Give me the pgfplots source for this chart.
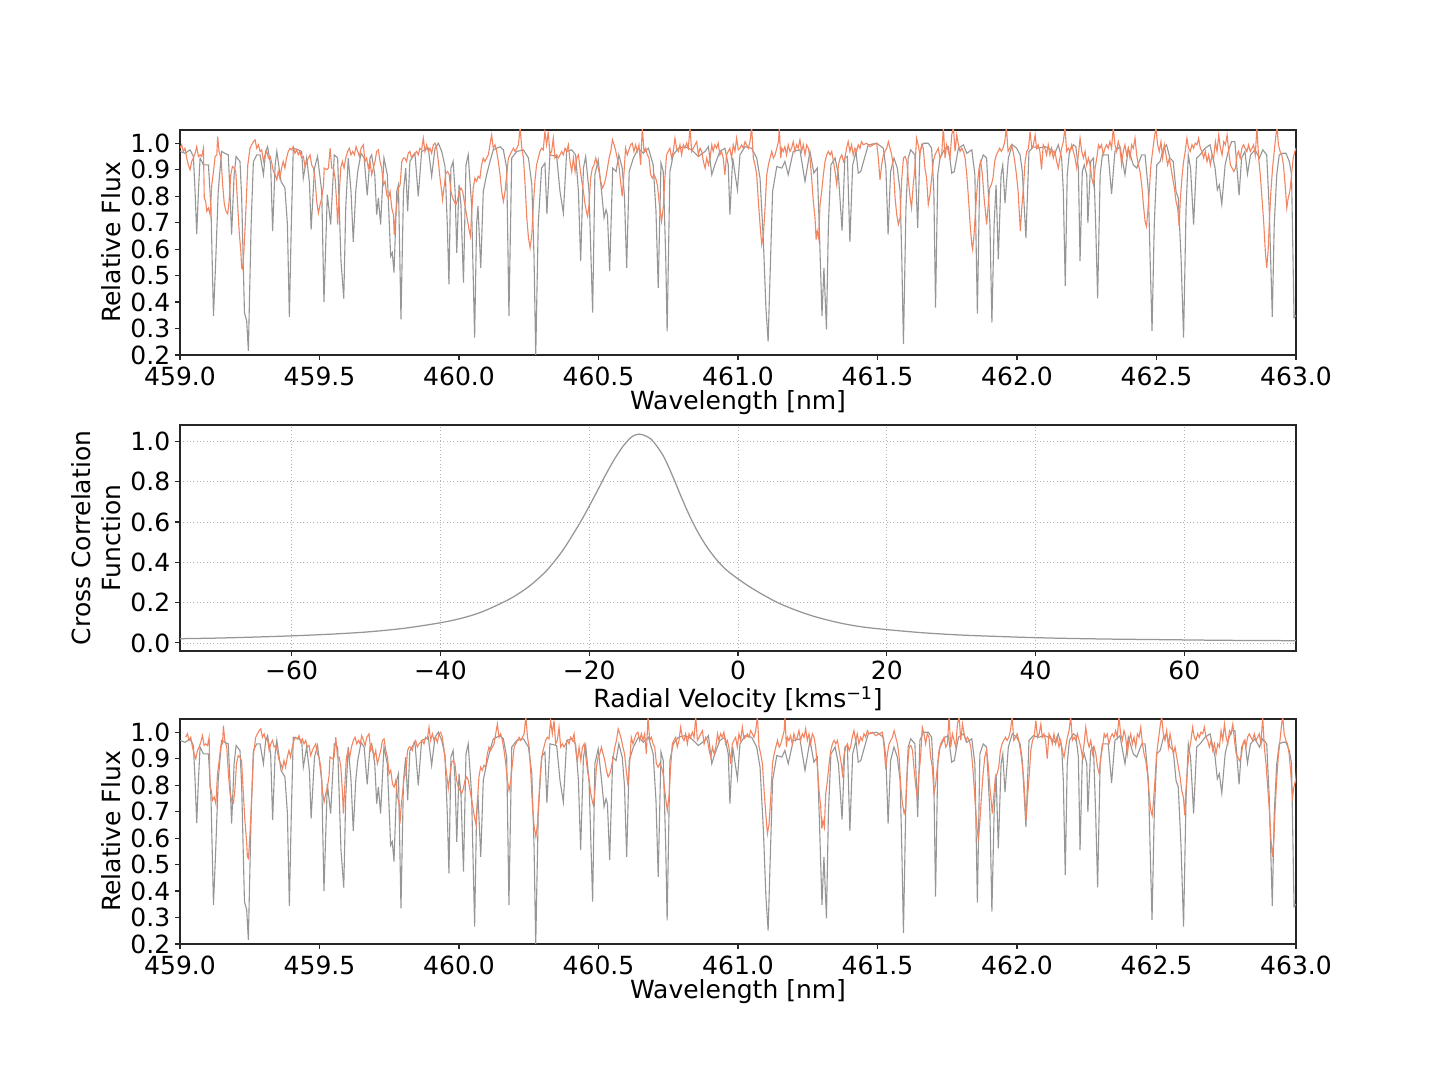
\documentclass[border=0pt]{standalone}
\usepackage{fontspec}
\setmainfont{DejaVu Sans}
\usepackage{pgfplots}
\pgfplotsset{compat=1.18}
\usepackage{pgfplotstable}
\definecolor{obs}{RGB}{242,134,98}
\definecolor{mod}{RGB}{150,150,150}

\pgfplotstableread{
x y
459.000 0.969
459.018 0.962
459.036 0.975
459.048 0.950
459.054 0.818
459.060 0.657
459.066 0.818
459.072 0.944
459.084 0.918
459.102 0.918
459.111 0.755
459.120 0.348
459.128 0.555
459.137 0.818
459.149 0.969
459.161 0.962
459.173 0.956
459.179 0.818
459.185 0.655
459.194 0.881
459.201 0.950
459.215 0.931
459.221 0.799
459.231 0.360
459.239 0.329
459.245 0.216
459.255 0.693
459.263 0.931
459.275 0.956
459.287 0.956
459.299 0.881
459.307 0.969
459.314 0.987
459.325 0.918
459.332 0.668
459.341 0.918
459.347 0.969
459.362 0.856
459.376 0.831
459.385 0.693
459.392 0.344
459.399 0.693
459.406 0.981
459.424 0.975
459.436 0.969
459.442 0.868
459.454 0.944
459.464 0.850
459.470 0.674
459.482 0.906
459.493 0.950
459.508 0.818
459.516 0.400
459.528 0.806
459.540 0.693
459.553 0.956
459.565 0.944
459.577 0.555
459.587 0.413
459.594 0.755
459.603 0.944
459.613 0.818
459.621 0.627
459.630 0.818
459.637 0.893
459.649 0.962
459.660 0.944
459.671 0.803
459.681 0.944
459.687 0.956
459.698 0.881
459.705 0.730
459.711 0.793
459.719 0.693
459.731 0.944
459.743 0.881
459.755 0.573
459.761 0.586
459.767 0.511
459.777 0.818
459.783 0.843
459.792 0.335
459.801 0.818
459.809 0.906
459.816 0.743
459.824 0.931
459.842 0.962
459.854 0.799
459.866 0.969
459.890 0.981
459.902 0.875
459.914 0.981
459.926 1.000
459.938 0.969
459.950 0.912
459.958 0.693
459.964 0.467
459.971 0.906
459.979 0.931
459.986 0.818
459.992 0.586
460.000 0.843
460.007 0.768
460.016 0.473
460.025 0.918
460.033 0.956
460.045 0.768
460.056 0.266
460.063 0.693
460.068 0.762
460.078 0.529
460.087 0.818
460.099 0.881
460.111 0.931
460.123 0.975
460.147 0.987
460.159 0.975
460.171 0.906
460.179 0.348
460.189 0.944
460.207 0.969
460.231 0.975
460.249 0.944
460.261 0.843
460.269 0.567
460.275 0.195
460.284 0.693
460.296 0.906
460.308 0.925
460.315 0.733
460.326 0.956
460.350 0.950
460.362 0.818
460.374 0.736
460.386 0.969
460.404 0.975
460.418 0.956
460.428 0.818
460.436 0.555
460.446 0.906
460.454 0.950
460.466 0.818
460.479 0.360
460.487 0.881
460.499 0.937
460.511 0.818
460.520 0.718
460.527 0.749
460.532 0.730
460.540 0.517
460.551 0.906
460.563 0.893
460.573 0.956
460.585 0.906
460.593 0.800
460.601 0.529
460.610 0.893
460.625 0.944
460.643 0.981
460.661 0.962
460.679 0.981
460.696 0.918
460.706 0.743
460.714 0.454
460.724 0.925
460.732 0.893
460.741 0.567
460.746 0.289
460.756 0.893
460.768 0.956
460.786 0.981
460.810 0.987
460.834 0.975
460.858 0.950
460.882 0.969
460.894 0.987
460.906 0.881
460.917 0.918
460.935 0.969
460.953 0.981
460.965 0.918
460.971 0.730
460.981 0.944
460.998 0.824
461.007 0.956
461.025 0.987
461.049 0.981
461.067 0.944
461.079 0.868
461.091 0.630
461.100 0.379
461.108 0.251
461.115 0.504
461.124 0.818
461.139 0.912
461.157 0.906
461.168 0.931
461.180 0.881
461.198 0.969
461.222 0.975
461.240 0.856
461.258 0.969
461.272 0.887
461.284 0.906
461.291 0.693
461.301 0.348
461.308 0.529
461.317 0.297
461.324 0.693
461.333 0.918
461.348 0.944
461.360 0.881
461.373 0.670
461.383 0.944
461.392 0.950
461.401 0.627
461.411 0.918
461.423 0.969
461.431 0.887
461.440 0.893
461.455 0.950
461.467 0.994
461.497 1.000
461.521 0.981
461.530 0.906
461.538 0.655
461.547 0.893
461.559 0.944
461.571 0.906
461.581 0.818
461.587 0.567
461.593 0.241
461.602 0.755
461.610 0.944
461.619 0.975
461.634 0.956
461.644 0.680
461.652 0.969
461.664 1.000
461.682 1.000
461.694 0.981
461.702 0.818
461.708 0.379
461.716 0.881
461.724 0.944
461.742 0.981
461.754 0.987
461.766 0.887
461.775 0.893
461.790 0.981
461.808 0.994
461.820 0.962
461.838 0.975
461.849 0.881
461.858 0.356
461.867 0.918
461.879 0.956
461.891 0.944
461.903 0.693
461.910 0.322
461.918 0.693
461.925 0.843
461.933 0.561
461.943 0.881
461.949 0.918
461.957 0.774
461.969 0.944
461.983 0.994
461.999 0.981
462.011 0.956
462.019 0.893
462.032 0.642
462.043 0.969
462.059 0.987
462.076 0.981
462.100 0.987
462.124 0.975
462.136 0.962
462.148 0.994
462.160 0.944
462.166 0.818
462.173 0.460
462.180 0.881
462.188 0.969
462.202 0.994
462.211 0.987
462.220 0.906
462.226 0.555
462.234 0.893
462.241 0.918
462.250 0.881
462.254 0.699
462.264 0.931
462.274 0.944
462.282 0.693
462.289 0.414
462.298 0.881
462.306 0.956
462.327 0.956
462.339 0.808
462.351 0.969
462.369 0.987
462.387 0.881
462.399 0.981
462.417 0.918
462.429 0.906
462.447 0.956
462.459 0.956
462.471 0.818
462.477 0.567
462.484 0.291
462.492 0.693
462.501 0.918
462.513 0.931
462.525 0.981
462.536 0.994
462.548 0.944
462.560 0.931
462.570 0.818
462.578 0.793
462.588 0.567
462.597 0.266
462.606 0.755
462.614 0.956
462.622 0.906
462.633 0.693
462.644 0.944
462.656 0.956
462.674 0.981
462.692 0.994
462.710 0.906
462.718 0.824
462.725 0.843
462.734 0.770
462.746 0.918
462.757 0.969
462.769 1.006
462.781 1.006
462.796 0.803
462.805 0.944
462.817 0.969
462.826 0.883
462.837 0.956
462.853 0.975
462.869 0.944
462.881 0.975
462.895 0.956
462.904 0.755
462.915 0.344
462.922 0.693
462.931 0.881
462.940 0.956
462.952 0.962
462.964 0.962
462.976 0.931
462.984 0.881
462.993 0.341
463.000 0.350
}\model

\pgfplotstableread{
x y
459.000 0.981
459.006 0.994
459.012 0.969
459.018 0.981
459.024 0.944
459.030 0.918
459.036 0.900
459.042 0.931
459.048 0.944
459.054 0.962
459.060 0.987
459.066 0.950
459.072 0.956
459.078 0.950
459.084 0.981
459.087 0.793
459.092 0.780
459.096 0.743
459.102 0.755
459.108 0.730
459.114 0.843
459.120 0.893
459.126 0.950
459.132 0.956
459.135 1.025
459.140 0.969
459.147 0.944
459.153 0.843
459.159 0.768
459.165 0.743
459.171 0.733
459.176 0.780
459.182 0.881
459.188 0.912
459.194 0.906
459.200 0.893
459.206 0.780
459.212 0.668
459.218 0.592
459.221 0.529
459.225 0.523
459.229 0.592
459.235 0.718
459.243 0.918
459.251 0.981
459.257 0.994
459.263 1.006
459.269 1.013
459.275 0.981
459.281 0.994
459.287 0.969
459.293 0.975
459.299 0.931
459.305 0.956
459.311 0.969
459.317 0.944
459.323 0.950
459.329 0.925
459.335 0.893
459.341 0.881
459.347 0.862
459.352 0.893
459.358 0.868
459.364 0.906
459.370 0.931
459.376 0.906
459.382 0.944
459.388 0.969
459.394 0.981
459.400 0.975
459.406 0.987
459.412 0.962
459.418 0.975
459.424 0.956
459.430 0.969
459.436 0.944
459.442 0.950
459.448 0.912
459.454 0.931
459.460 0.944
459.466 0.956
459.472 0.918
459.478 0.906
459.484 0.868
459.490 0.780
459.496 0.736
459.502 0.768
459.508 0.793
459.514 0.837
459.517 0.906
459.526 0.900
459.532 0.906
459.538 0.981
459.544 0.906
459.550 0.906
459.556 0.868
459.562 0.768
459.565 0.693
459.570 0.793
459.576 0.906
459.582 0.931
459.588 0.906
459.594 0.944
459.601 0.969
459.607 0.981
459.613 0.956
459.619 0.969
459.625 0.956
459.631 0.987
459.637 0.969
459.643 0.950
459.649 0.981
459.657 0.994
459.663 0.931
459.669 0.944
459.675 0.906
459.681 0.931
459.687 0.881
459.693 0.906
459.699 0.931
459.705 0.969
459.711 0.975
459.717 0.931
459.723 0.906
459.729 0.843
459.735 0.856
459.741 0.805
459.747 0.793
459.753 0.818
459.759 0.755
459.765 0.730
459.768 0.655
459.772 0.718
459.777 0.768
459.783 0.831
459.789 0.843
459.795 0.931
459.801 0.944
459.806 0.944
459.812 0.931
459.818 0.962
459.824 0.969
459.830 0.944
459.836 0.956
459.842 0.962
459.848 0.969
459.854 0.956
459.860 0.981
459.866 0.975
459.872 1.019
459.878 0.969
459.884 0.994
459.890 0.969
459.896 0.981
459.902 0.962
459.908 0.994
459.914 1.000
459.920 0.981
459.926 0.931
459.932 0.868
459.938 0.818
459.941 0.787
459.946 0.831
459.953 0.887
459.959 0.893
459.965 0.881
459.971 0.818
459.977 0.793
459.983 0.780
459.989 0.768
459.995 0.787
460.001 0.818
460.007 0.831
460.013 0.818
460.019 0.780
460.025 0.743
460.031 0.705
460.037 0.668
460.041 0.649
460.045 0.730
460.051 0.831
460.057 0.868
460.063 0.856
460.069 0.875
460.075 0.868
460.081 0.918
460.087 0.944
460.093 0.931
460.099 0.944
460.105 0.956
460.111 0.994
460.117 1.031
460.123 0.981
460.129 0.994
460.135 0.969
460.141 0.931
460.147 0.881
460.153 0.818
460.159 0.780
460.165 0.818
460.171 0.881
460.177 0.944
460.183 0.956
460.189 0.969
460.195 0.981
460.201 0.969
460.207 0.981
460.213 0.994
460.219 1.060
460.225 0.981
460.231 0.944
460.237 0.843
460.243 0.718
460.249 0.642
460.255 0.605
460.261 0.655
460.266 0.755
460.272 0.856
460.278 0.918
460.284 0.944
460.290 0.969
460.296 0.981
460.302 0.975
460.308 1.044
460.314 0.994
460.320 1.044
460.326 0.956
460.332 0.969
460.338 1.019
460.344 0.944
460.350 0.956
460.356 0.944
460.362 0.956
460.368 0.969
460.374 0.956
460.380 0.981
460.386 0.969
460.392 0.994
460.398 0.931
460.404 0.893
460.410 0.944
460.416 0.893
460.422 0.944
460.428 0.956
460.434 0.906
460.440 0.856
460.446 0.818
460.452 0.768
460.458 0.736
460.461 0.724
460.466 0.768
460.472 0.868
460.478 0.906
460.484 0.918
460.490 0.944
460.496 0.918
460.502 0.893
460.508 0.856
460.514 0.831
460.520 0.843
460.526 0.868
460.532 0.906
460.538 0.944
460.544 0.969
460.550 1.013
460.556 0.994
460.561 0.975
460.567 0.944
460.573 0.918
460.579 0.856
460.585 0.799
460.591 0.881
460.597 0.981
460.603 0.956
460.609 0.975
460.615 0.994
460.621 1.000
460.627 0.969
460.633 0.994
460.639 0.969
460.645 0.994
460.651 0.918
460.657 1.060
460.663 0.969
460.669 0.981
460.675 0.956
460.681 0.944
460.687 0.881
460.693 0.868
460.699 0.881
460.705 0.868
460.711 0.843
460.717 0.780
460.723 0.730
460.726 0.705
460.732 0.755
460.738 0.868
460.744 0.956
460.750 0.969
460.756 0.981
460.762 0.944
460.768 0.969
460.774 1.019
460.780 0.981
460.786 0.969
460.792 0.994
460.798 0.956
460.804 0.994
460.810 0.981
460.816 1.000
460.822 0.981
460.828 1.060
460.834 0.969
460.840 0.981
460.846 0.994
460.852 1.006
460.858 0.956
460.864 0.981
460.870 0.969
460.876 0.931
460.882 0.906
460.888 0.944
460.894 0.918
460.900 0.944
460.906 0.994
460.911 0.969
460.917 0.994
460.923 0.981
460.929 1.000
460.935 0.956
460.941 0.969
460.947 0.944
460.953 0.881
460.959 0.956
460.965 0.969
460.971 0.981
460.977 0.944
460.983 0.994
460.989 0.969
460.995 1.019
461.001 0.975
461.007 0.981
461.013 0.994
461.019 0.981
461.025 1.006
461.031 0.994
461.037 0.981
461.043 1.006
461.049 1.060
461.055 0.944
461.061 0.918
461.067 0.881
461.073 0.780
461.079 0.693
461.085 0.617
461.091 0.655
461.097 0.755
461.103 0.881
461.109 0.918
461.115 0.944
461.121 0.969
461.127 0.944
461.133 0.956
461.139 0.981
461.145 1.006
461.148 1.060
461.153 0.944
461.157 0.981
461.162 0.969
461.168 0.987
461.174 0.956
461.180 0.994
461.186 0.969
461.192 0.981
461.198 1.006
461.204 0.969
461.210 0.994
461.216 0.981
461.222 1.013
461.228 0.969
461.234 0.994
461.240 0.956
461.246 0.994
461.252 0.981
461.258 0.944
461.264 0.868
461.270 0.780
461.276 0.718
461.280 0.636
461.284 0.668
461.289 0.642
461.294 0.768
461.300 0.818
461.306 0.881
461.312 0.931
461.318 0.956
461.324 0.969
461.330 0.956
461.336 0.969
461.342 0.931
461.348 0.893
461.354 0.843
461.360 0.918
461.366 0.944
461.372 0.956
461.378 0.931
461.383 0.944
461.389 0.981
461.395 1.006
461.401 0.969
461.407 0.994
461.413 0.956
461.419 0.981
461.425 0.969
461.431 0.994
461.437 0.981
461.443 1.006
461.449 0.994
461.461 1.000
461.473 0.987
461.485 0.994
461.497 1.000
461.503 0.944
461.509 0.862
461.515 0.918
461.521 0.956
461.527 0.969
461.533 0.981
461.539 1.006
461.545 0.981
461.551 0.956
461.557 0.906
461.563 0.793
461.569 0.730
461.575 0.693
461.581 0.718
461.587 0.868
461.593 0.944
461.599 0.950
461.605 0.931
461.611 0.856
461.617 0.793
461.622 0.755
461.628 0.843
461.634 0.906
461.640 1.019
461.646 0.994
461.652 0.956
461.658 0.994
461.664 0.981
461.670 0.906
461.676 0.868
461.682 0.768
461.688 0.805
461.694 0.868
461.700 0.931
461.706 0.956
461.712 0.969
461.718 0.981
461.724 0.944
461.730 0.956
461.736 1.060
461.742 0.944
461.748 0.994
461.754 0.969
461.760 0.944
461.766 1.031
461.772 1.060
461.778 0.969
461.784 1.031
461.790 0.994
461.796 0.969
461.802 0.981
461.808 0.969
461.814 0.944
461.820 0.881
461.826 0.793
461.832 0.693
461.838 0.617
461.841 0.598
461.846 0.655
461.852 0.755
461.858 0.843
461.864 0.906
461.870 0.931
461.876 0.881
461.882 0.793
461.888 0.730
461.891 0.693
461.896 0.755
461.902 0.831
461.908 0.843
461.914 0.868
461.920 0.931
461.926 0.956
461.932 0.969
461.938 0.981
461.944 0.969
461.950 0.981
461.956 1.006
461.962 1.060
461.968 0.969
461.974 0.981
461.980 0.994
461.986 0.969
461.992 0.931
461.998 0.881
462.004 0.818
462.008 0.743
462.012 0.668
462.017 0.755
462.023 0.831
462.029 0.931
462.035 0.969
462.041 0.981
462.047 1.044
462.053 0.981
462.059 0.994
462.065 1.031
462.070 0.981
462.076 0.994
462.082 0.969
462.088 0.900
462.094 0.994
462.100 0.981
462.106 0.956
462.112 0.994
462.118 0.956
462.124 0.981
462.130 0.944
462.136 0.969
462.142 0.931
462.148 0.906
462.154 0.944
462.160 0.981
462.166 1.006
462.172 1.060
462.178 0.969
462.184 0.981
462.190 0.969
462.196 0.994
462.202 0.969
462.208 0.944
462.214 0.906
462.220 0.956
462.226 1.019
462.232 0.969
462.238 0.944
462.244 0.969
462.250 0.918
462.256 0.944
462.262 0.918
462.268 0.868
462.274 0.843
462.280 0.906
462.286 0.944
462.292 0.994
462.297 0.981
462.303 0.994
462.309 0.956
462.315 0.981
462.321 0.994
462.327 0.981
462.333 1.006
462.339 0.981
462.345 1.060
462.351 0.994
462.357 0.969
462.363 1.006
462.369 0.981
462.375 0.918
462.381 0.969
462.387 0.994
462.393 0.956
462.399 0.981
462.405 0.944
462.411 0.994
462.417 0.981
462.423 1.019
462.429 0.956
462.435 0.918
462.441 0.893
462.447 0.843
462.453 0.768
462.459 0.705
462.464 0.686
462.468 0.730
462.474 0.818
462.480 0.918
462.486 0.969
462.492 1.019
462.498 1.060
462.504 0.994
462.510 0.969
462.516 1.006
462.522 0.944
462.528 0.994
462.534 0.956
462.540 0.918
462.546 0.944
462.552 0.906
462.558 0.868
462.564 0.831
462.570 0.780
462.576 0.755
462.581 0.686
462.585 0.780
462.591 0.868
462.597 0.931
462.603 0.969
462.609 1.019
462.615 0.981
462.621 0.969
462.627 0.994
462.633 0.981
462.639 1.000
462.645 0.994
462.651 1.019
462.657 0.981
462.663 0.969
462.669 0.944
462.675 0.969
462.681 0.931
462.687 0.956
462.693 0.918
462.699 0.956
462.705 0.944
462.711 1.006
462.717 0.969
462.723 1.031
462.729 0.981
462.735 0.956
462.741 1.006
462.747 0.994
462.753 1.031
462.759 0.969
462.765 0.918
462.771 0.906
462.777 0.893
462.783 0.906
462.789 0.956
462.794 0.969
462.800 0.944
462.806 0.981
462.812 0.994
462.818 0.981
462.824 0.969
462.830 0.994
462.836 0.969
462.842 0.981
462.848 0.994
462.854 0.956
462.860 1.060
462.866 0.944
462.872 0.881
462.878 0.793
462.884 0.705
462.890 0.592
462.895 0.529
462.900 0.592
462.904 0.693
462.910 0.818
462.916 0.906
462.922 0.969
462.928 1.031
462.932 1.060
462.937 0.994
462.943 0.969
462.949 0.956
462.955 0.918
462.961 0.843
462.967 0.755
462.972 0.793
462.978 0.818
462.984 0.881
462.990 0.944
462.996 0.969
463.000 0.981
}\observed

\pgfplotstableread{
x y
-75 0.021
-70 0.024
-65 0.029
-60 0.035
-55 0.043
-50 0.054
-45 0.072
-40 0.100
-37 0.124
-34.7 0.150
-32.5 0.185
-30.2 0.228
-28 0.283
-25.7 0.360
-23.5 0.462
-21.3 0.592
-20 0.678
-18.8 0.762
-17.7 0.840
-16.5 0.918
-15.4 0.978
-14.3 1.022
-13.3 1.036
-12.3 1.025
-11.4 1.000
-10 0.925
-8.7 0.820
-7.6 0.722
-6.5 0.630
-5.4 0.550
-4.25 0.480
-3.1 0.423
-2.0 0.377
-1 0.345
0 0.318
1.5 0.280
3.4 0.238
5.5 0.197
7.8 0.162
10 0.134
12.3 0.111
14.5 0.093
16.8 0.079
20 0.066
25 0.050
30 0.039
35 0.032
40 0.026
45 0.022
50 0.019
55 0.017
60 0.015
65 0.013
70 0.012
75 0.011
}\ccf

\begin{document}
\begin{tikzpicture}
\path[use as bounding box] (0,0) rectangle (1036.8pt,777.6pt);
\pgfplotsset{
  every axis/.append style={
    scale only axis,
    width=803.52pt,
    anchor=south west,
    tick align=outside,
    tick pos=left,
    major tick length=3.5pt,
    axis line style={line width=0.8pt, black!85},
    every tick/.style={line width=0.8pt, black!85},
    tick label style={font=\fontsize{18}{21.6}\selectfont},
    label style={font=\fontsize{18}{21.6}\selectfont},
    clip=true,
  },
  spec/.style={
    xmin=459, xmax=463, ymin=0.2, ymax=1.05,
    height=162pt,
    xtick={459,459.5,460,460.5,461,461.5,462,462.5,463},
    xticklabels={459.0,459.5,460.0,460.5,461.0,461.5,462.0,462.5,463.0},
    ytick={0.2,0.3,0.4,0.5,0.6,0.7,0.8,0.9,1.0},
    yticklabels={0.2,0.3,0.4,0.5,0.6,0.7,0.8,0.9,1.0},
    xticklabel style={yshift=-1.5pt},
    xlabel={Wavelength [nm]},
    ylabel={Relative Flux},
    xlabel style={yshift=3.5pt},
  },
}
% top panel
\begin{axis}[spec, at={(129.6pt,522pt)}]
\addplot[mod, line width=0.8pt] table[x=x,y=y] {\model};
\addplot[obs, line width=0.8pt] table[x=x,y=y] {\observed};
\end{axis}
% middle panel
\begin{axis}[at={(129.6pt,308.88pt)}, height=162.7pt,
  xmin=-75, xmax=75, ymin=-0.04, ymax=1.081,
  xtick={-60,-40,-20,0,20,40,60},
  xticklabels={−60,−40,−20,0,20,40,60},
  ytick={0,0.2,0.4,0.6,0.8,1.0},
  yticklabels={0.0,0.2,0.4,0.6,0.8,1.0},
  grid=major,
  major grid style={dotted, line width=0.6pt, black!30},
  xlabel={Radial Velocity [kms\textsuperscript{−1}]},
  ylabel={Cross Correlation\\Function},
  ylabel style={align=center},
  xlabel style={yshift=2pt},
]
\addplot[mod, line width=0.9pt, smooth] table[x=x,y=y] {\ccf};
\end{axis}
% bottom panel
\begin{axis}[spec, at={(129.6pt,97.92pt)}]
\addplot[mod, line width=0.8pt] table[x=x,y=y] {\model};
\addplot[obs, line width=0.8pt] table[x expr=\thisrow{x}+0.0205,y=y] {\observed};
\end{axis}
\end{tikzpicture}
\end{document}
